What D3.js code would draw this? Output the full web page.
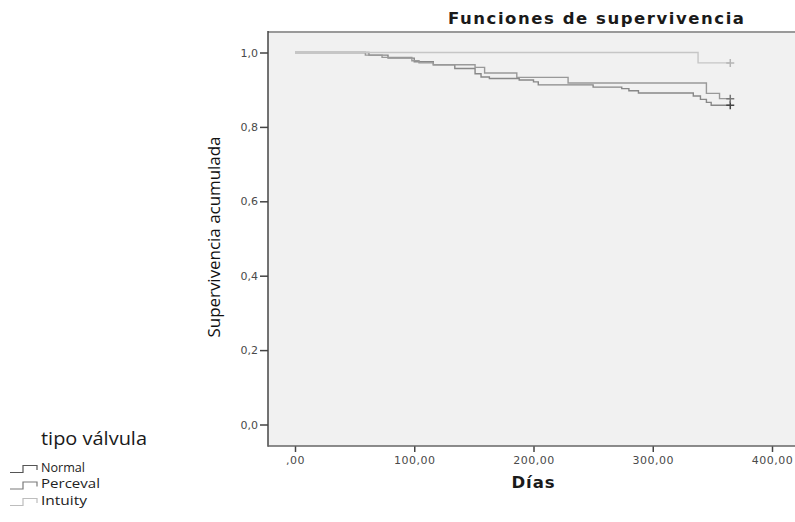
<!DOCTYPE html>
<html>
<head>
<meta charset="utf-8">
<script src="https://cdn.jsdelivr.net/npm/d3@7"></script>
<style>
  body { margin: 0; background: #fff; }
  svg { display: block; }
</style>
</head>
<body>
<div id="chart"></div>
<script>
// Kaplan-Meier steps (days, survival)
const groups = ["Normal", "Perceval", "Intuity"];
const normalDays = [0, 62, 78, 100, 116, 134, 151, 156, 163, 188, 200, 204, 250, 274, 280, 288, 334, 340, 345, 349, 365];
const normalSurv = [1.0, 0.993, 0.985, 0.975, 0.967, 0.957, 0.943, 0.934, 0.930, 0.926, 0.921, 0.913, 0.907, 0.903, 0.897, 0.891, 0.883, 0.874, 0.866, 0.858, 0.858];
const percevalDays = [0, 59, 73, 98, 104, 116, 151, 159, 186, 229, 345, 356, 365];
const percevalSurv = [1.0, 0.993, 0.987, 0.978, 0.972, 0.967, 0.960, 0.945, 0.933, 0.918, 0.890, 0.876, 0.876];
const intuityDays = [0, 338, 365];
const intuitySurv = [1.0, 0.972, 0.972];
const xTicks = [0, 100, 200, 300, 400];
const yTicks = [0, 0.2, 0.4, 0.6, 0.8, 1.0];

const lineColors = ["#888888", "#999999", "#c6c6c6"];
const censorColors = ["#444444", "#777777", "#b5b5b5"];
const legendColors = ["#555555", "#7a7a7a", "#bdbdbd"];

const svg = d3.select("#chart").append("svg")
    .attr("width", 795)
    .attr("height", 522);

const x = d3.scaleLinear().domain([0, 400]).range([295, 772]);
const y = d3.scaleLinear().domain([0, 1]).range([424.5, 52.5]);

const plotLeft = 268, plotRight = 800, plotTop = 32, plotBottom = 446;

// plot background
svg.append("rect")
    .attr("x", plotLeft).attr("y", plotTop)
    .attr("width", plotRight - plotLeft).attr("height", plotBottom - plotTop)
    .attr("fill", "#f1f1f1");

svg.append("line")
    .attr("x1", plotLeft).attr("x2", plotRight)
    .attr("y1", plotTop).attr("y2", plotTop)
    .attr("stroke", "#9a9a9a").attr("stroke-width", 2);

// axes
const yAxis = d3.axisLeft(y).tickValues(yTicks).tickSize(8).tickSizeOuter(0)
    .tickFormat(d => d3.format(".1f")(d).replace(".", ","));
const gy = svg.append("g").attr("transform", "translate(" + plotLeft + ",0)").call(yAxis);
gy.select(".domain").remove();
gy.selectAll(".tick line").attr("stroke", "#444").attr("stroke-width", 1.5);
gy.selectAll(".tick text")
    .attr("font-family", "DejaVu Sans").attr("font-size", 11)
    .attr("fill", "#4a4a4a").attr("x", -10);

const xAxis = d3.axisBottom(x).tickValues(xTicks).tickSize(6).tickSizeOuter(0)
    .tickFormat(d => d === 0 ? ",00" : d + ",00");
const gx = svg.append("g").attr("transform", "translate(0," + plotBottom + ")").call(xAxis);
gx.select(".domain").remove();
gx.selectAll(".tick line").attr("stroke", "#444").attr("stroke-width", 1.5);
gx.selectAll(".tick text")
    .attr("font-family", "DejaVu Sans").attr("font-size", 11)
    .attr("fill", "#4a4a4a").attr("y", 10).attr("letter-spacing", 0.5);

svg.append("line")
    .attr("x1", plotLeft).attr("x2", plotLeft)
    .attr("y1", plotTop - 1).attr("y2", plotBottom + 0.75)
    .attr("stroke", "#444").attr("stroke-width", 1.5);
svg.append("line")
    .attr("x1", plotLeft).attr("x2", plotRight)
    .attr("y1", plotBottom).attr("y2", plotBottom)
    .attr("stroke", "#666").attr("stroke-width", 1.5);

// survival curves
const series = [
  {name: "Normal", days: normalDays, surv: normalSurv},
  {name: "Perceval", days: percevalDays, surv: percevalSurv},
  {name: "Intuity", days: intuityDays, surv: intuitySurv}
];

const stepLine = d3.line()
    .x(d => x(d[0]))
    .y(d => y(d[1]))
    .curve(d3.curveStepAfter);

series.forEach(function(s, i) {
    let pts = s.days.map((d, j) => [d, s.surv[j]]);
    svg.append("path")
        .attr("d", stepLine(pts))
        .attr("fill", "none")
        .attr("stroke", lineColors[i])
        .attr("stroke-width", 1.4);
    let last = pts[pts.length - 1];
    svg.append("path")
        .attr("d", "M" + (x(last[0]) - 4) + "," + y(last[1]) + "h8M" + x(last[0]) + "," + (y(last[1]) - 4) + "v8")
        .attr("stroke", censorColors[i])
        .attr("stroke-width", 1.5);
});

// titles
svg.append("text")
    .attr("x", 596).attr("y", 24)
    .attr("text-anchor", "middle")
    .attr("font-family", "DejaVu Sans").attr("font-weight", "bold")
    .attr("font-size", 16.5).attr("fill", "#1a1a1a")
    .attr("textLength", 296).attr("lengthAdjust", "spacing")
    .text("Funciones de supervivencia");

svg.append("text")
    .attr("x", 533).attr("y", 488)
    .attr("text-anchor", "middle")
    .attr("font-family", "DejaVu Sans").attr("font-weight", "bold")
    .attr("font-size", 16.5).attr("fill", "#1a1a1a")
    .attr("textLength", 43).attr("lengthAdjust", "spacing")
    .text("Días");

svg.append("text")
    .attr("transform", "translate(220,237) rotate(-90)")
    .attr("text-anchor", "middle")
    .attr("font-family", "Open Sans").attr("font-size", 17).attr("fill", "#111")
    .attr("font-weight", 500)
    .attr("textLength", 201).attr("lengthAdjust", "spacingAndGlyphs")
    .text("Supervivencia acumulada");

// legend
svg.append("text")
    .attr("x", 41).attr("y", 445)
    .attr("font-family", "Open Sans").attr("font-size", 18).attr("fill", "#1a1a1a")
    .attr("textLength", 106).attr("lengthAdjust", "spacingAndGlyphs")
    .text("tipo válvula");

const legend = svg.selectAll(".legend")
    .data(groups)
    .enter().append("g").attr("class", "legend")
    .attr("transform", (d, i) => "translate(0," + (471 + i * 16.5) + ")");

legend.append("path")
    .attr("d", "M10,1.5H23V-5.5H37V-1")
    .attr("fill", "none")
    .attr("stroke", (d, i) => legendColors[i])
    .attr("stroke-width", 1.2);

legend.append("text")
    .attr("x", 41).attr("y", 0.5)
    .attr("font-family", "Open Sans").attr("font-size", 12).attr("fill", "#222")
    .attr("font-weight", 500)
    .attr("textLength", (d, i) => [44, 59, 46][i]).attr("lengthAdjust", "spacingAndGlyphs")
    .text(d => d);
</script>
</body>
</html>
